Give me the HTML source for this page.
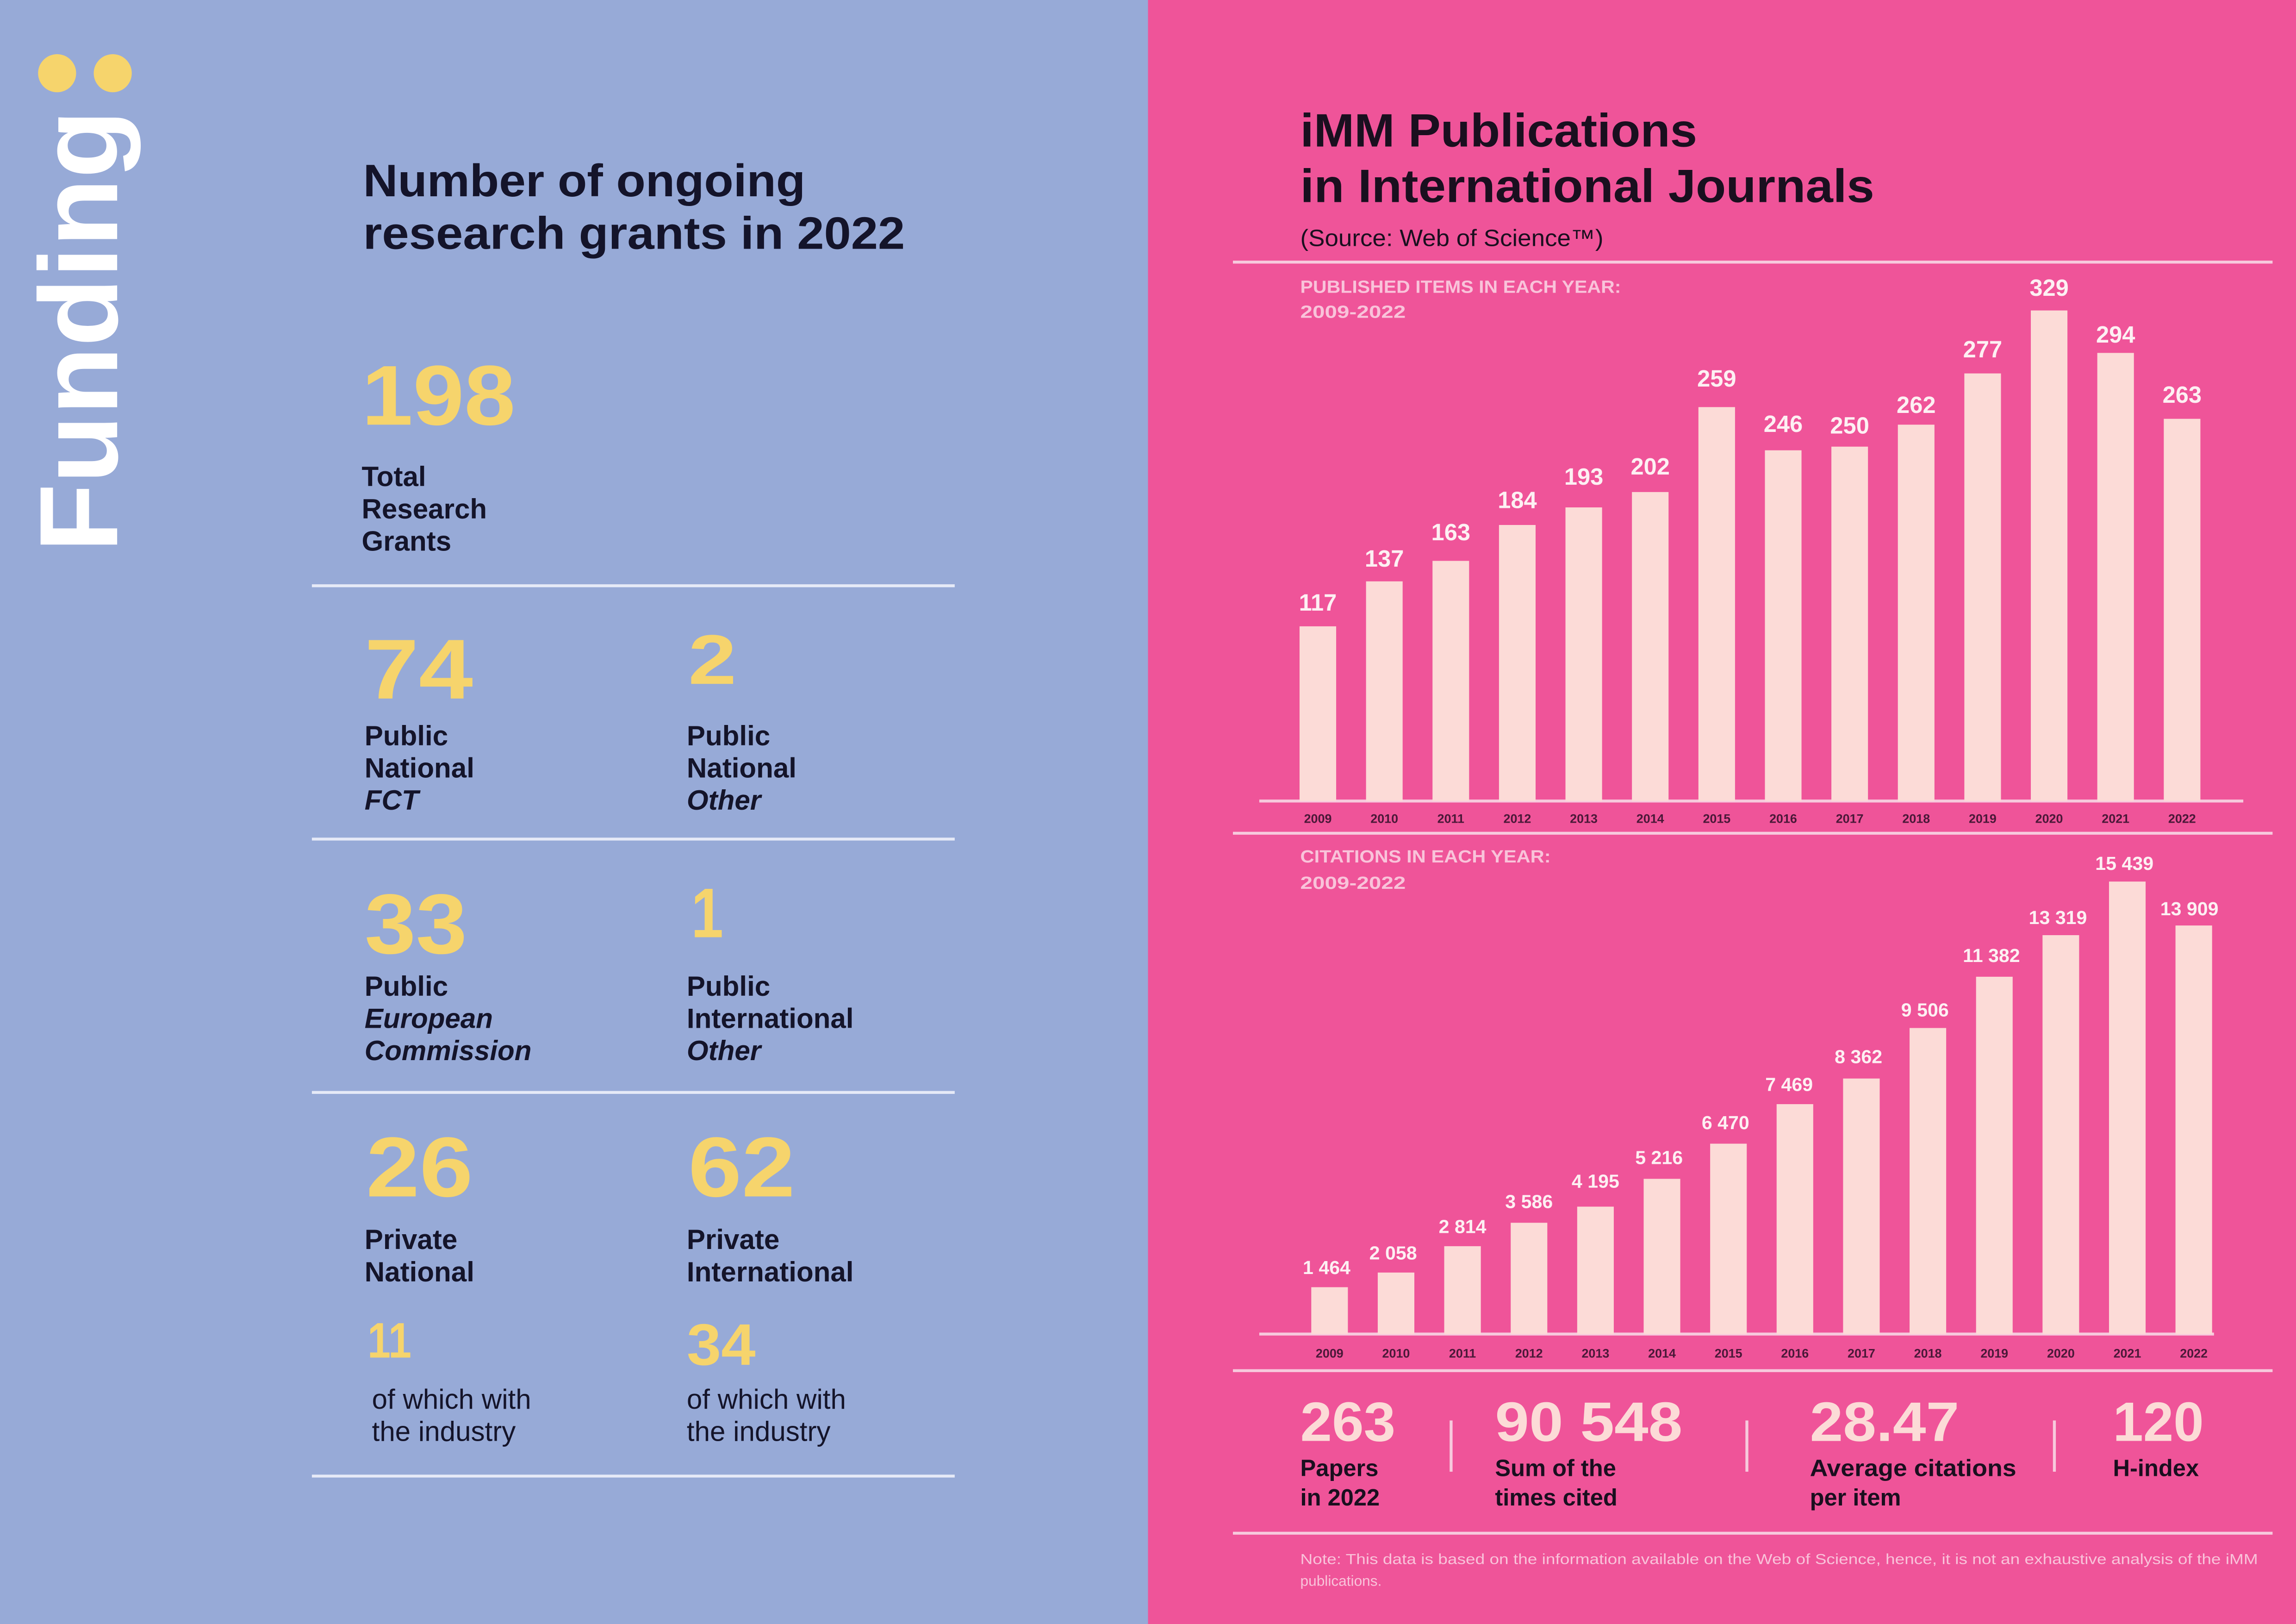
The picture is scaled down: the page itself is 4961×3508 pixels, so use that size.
<!DOCTYPE html>
<html><head><meta charset="utf-8"><style>
html,body{margin:0;padding:0;background:#ef5499;}
svg{display:block}
text{font-family:"Liberation Sans",sans-serif;}
</style></head><body>
<svg xmlns="http://www.w3.org/2000/svg" width="4961" height="3508" viewBox="0 0 1568 1109" preserveAspectRatio="none">
<rect x="0" y="0" width="784" height="1109" fill="#97aad7"/>
<rect x="784" y="0" width="784" height="1109" fill="#ef5499"/>

<!-- Funding -->
<circle cx="39" cy="50" r="13" fill="#f6d46c"/>
<circle cx="77" cy="50" r="13" fill="#f6d46c"/>
<text transform="translate(80,377) rotate(-90)" font-size="76" font-weight="bold" fill="#ffffff" textLength="302" lengthAdjust="spacingAndGlyphs">Funding</text>

<g fill="#14142a" font-weight="bold">
<text x="248" y="134" font-size="31" textLength="302" lengthAdjust="spacingAndGlyphs">Number of ongoing</text>
<text x="248" y="170" font-size="31" textLength="370" lengthAdjust="spacingAndGlyphs">research grants in 2022</text>
</g>

<g fill="#f6d46c" font-weight="bold">
<text x="247" y="290" font-size="58" textLength="105" lengthAdjust="spacingAndGlyphs">198</text>
<text x="249" y="477" font-size="58" textLength="74" lengthAdjust="spacingAndGlyphs">74</text>
<text x="470" y="467" font-size="48" textLength="33" lengthAdjust="spacingAndGlyphs">2</text>
<text x="249" y="651" font-size="58" textLength="70" lengthAdjust="spacingAndGlyphs">33</text>
<text x="472" y="640" font-size="48" textLength="22" lengthAdjust="spacingAndGlyphs">1</text>
<text x="250" y="817" font-size="58" textLength="73" lengthAdjust="spacingAndGlyphs">26</text>
<text x="470" y="817" font-size="58" textLength="73" lengthAdjust="spacingAndGlyphs">62</text>
<text x="251" y="927" font-size="34" textLength="30" lengthAdjust="spacingAndGlyphs">11</text>
<text x="469" y="932" font-size="40" textLength="47" lengthAdjust="spacingAndGlyphs">34</text>
</g>

<g fill="#14142a" font-size="19" font-weight="bold">
<text x="247" y="332">Total</text>
<text x="247" y="354">Research</text>
<text x="247" y="376">Grants</text>
<text x="249" y="509">Public</text>
<text x="249" y="531">National</text>
<text x="249" y="553" font-style="italic">FCT</text>
<text x="469" y="509">Public</text>
<text x="469" y="531">National</text>
<text x="469" y="553" font-style="italic">Other</text>
<text x="249" y="680">Public</text>
<text x="249" y="702" font-style="italic">European</text>
<text x="249" y="724" font-style="italic">Commission</text>
<text x="469" y="680">Public</text>
<text x="469" y="702">International</text>
<text x="469" y="724" font-style="italic">Other</text>
<text x="249" y="853">Private</text>
<text x="249" y="875">National</text>
<text x="469" y="853">Private</text>
<text x="469" y="875">International</text>
</g>
<g fill="#14142a" font-size="19">
<text x="254" y="962">of which with</text>
<text x="254" y="984">the industry</text>
<text x="469" y="962">of which with</text>
<text x="469" y="984">the industry</text>
</g>
<g stroke="#e6eaf7" stroke-width="2">
<line x1="213" y1="400" x2="652" y2="400"/>
<line x1="213" y1="573" x2="652" y2="573"/>
<line x1="213" y1="746" x2="652" y2="746"/>
<line x1="213" y1="1008" x2="652" y2="1008"/>
</g>

<!-- Right panel -->
<g fill="#1a0f1f" font-weight="bold">
<text x="888" y="100" font-size="32" textLength="271" lengthAdjust="spacingAndGlyphs">iMM Publications</text>
<text x="888" y="138" font-size="32" textLength="392" lengthAdjust="spacingAndGlyphs">in International Journals</text>
</g>
<text x="888" y="168" font-size="16" fill="#1a0f1f" textLength="207" lengthAdjust="spacingAndGlyphs">(Source: Web of Science™)</text>

<g stroke="#f7c9dd" stroke-width="2">
<line x1="842" y1="179" x2="1552" y2="179"/>
<line x1="842" y1="569" x2="1552" y2="569"/>
<line x1="842" y1="936" x2="1552" y2="936"/>
<line x1="842" y1="1047" x2="1552" y2="1047"/>
<line x1="860" y1="547" x2="1532" y2="547"/>
<line x1="860" y1="911" x2="1512" y2="911"/>
<line x1="991" y1="970" x2="991" y2="1005"/>
<line x1="1193" y1="970" x2="1193" y2="1005"/>
<line x1="1403" y1="970" x2="1403" y2="1005"/>
</g>

<g fill="#f9c3da" font-size="12" font-weight="bold">
<text x="888" y="200" textLength="219" lengthAdjust="spacingAndGlyphs">PUBLISHED ITEMS IN EACH YEAR:</text>
<text x="888" y="217" textLength="72" lengthAdjust="spacingAndGlyphs">2009-2022</text>
<text x="888" y="589" textLength="171" lengthAdjust="spacingAndGlyphs">CITATIONS IN EACH YEAR:</text>
<text x="888" y="607" textLength="72" lengthAdjust="spacingAndGlyphs">2009-2022</text>
</g>

<!-- Chart 1 bars -->
<g fill="#fcdbd7">
<rect x="887.5" y="427.7" width="25" height="119.3"/>
<rect x="932.9" y="397" width="25" height="150"/>
<rect x="978.3" y="383" width="25" height="164"/>
<rect x="1023.7" y="358.5" width="25" height="188.5"/>
<rect x="1069.1" y="346.5" width="25" height="200.5"/>
<rect x="1114.5" y="336" width="25" height="211"/>
<rect x="1159.9" y="278" width="25" height="269"/>
<rect x="1205.3" y="307.5" width="25" height="239.5"/>
<rect x="1250.7" y="305" width="25" height="242"/>
<rect x="1296.1" y="290" width="25" height="257"/>
<rect x="1341.5" y="255" width="25" height="292"/>
<rect x="1386.9" y="212" width="25" height="335"/>
<rect x="1432.3" y="241" width="25" height="306"/>
<rect x="1477.7" y="286" width="25" height="261"/>
</g>
<g fill="#fdf0f3" font-size="16" font-weight="bold" text-anchor="middle">
<text x="900" y="417">117</text>
<text x="945.4" y="387">137</text>
<text x="990.8" y="369">163</text>
<text x="1036.2" y="347">184</text>
<text x="1081.6" y="331">193</text>
<text x="1127" y="324">202</text>
<text x="1172.4" y="264">259</text>
<text x="1217.8" y="295">246</text>
<text x="1263.2" y="296">250</text>
<text x="1308.6" y="282">262</text>
<text x="1354" y="244">277</text>
<text x="1399.4" y="202">329</text>
<text x="1444.8" y="234">294</text>
<text x="1490.2" y="275">263</text>
</g>
<g fill="#4a1838" font-size="8.5" font-weight="bold" text-anchor="middle">
<text x="900" y="562">2009</text><text x="945.4" y="562">2010</text><text x="990.8" y="562">2011</text><text x="1036.2" y="562">2012</text><text x="1081.6" y="562">2013</text><text x="1127" y="562">2014</text><text x="1172.4" y="562">2015</text><text x="1217.8" y="562">2016</text><text x="1263.2" y="562">2017</text><text x="1308.6" y="562">2018</text><text x="1354" y="562">2019</text><text x="1399.4" y="562">2020</text><text x="1444.8" y="562">2021</text><text x="1490.2" y="562">2022</text>
</g>

<!-- Chart 2 bars -->
<g fill="#fcdbd7">
<rect x="895.5" y="879" width="25" height="32"/>
<rect x="940.9" y="869" width="25" height="42"/>
<rect x="986.3" y="851" width="25" height="60"/>
<rect x="1031.7" y="835" width="25" height="76"/>
<rect x="1077.1" y="824" width="25" height="87"/>
<rect x="1122.5" y="805" width="25" height="106"/>
<rect x="1167.9" y="781" width="25" height="130"/>
<rect x="1213.3" y="754" width="25" height="157"/>
<rect x="1258.7" y="736.5" width="25" height="174.5"/>
<rect x="1304.1" y="702" width="25" height="209"/>
<rect x="1349.5" y="667" width="25" height="244"/>
<rect x="1394.9" y="638.6" width="25" height="272.4"/>
<rect x="1440.3" y="602" width="25" height="309"/>
<rect x="1485.7" y="632" width="25" height="279"/>
</g>
<g fill="#fdf0f3" font-size="13" font-weight="bold" text-anchor="middle">
<text x="906" y="870">1 464</text>
<text x="951.4" y="860">2 058</text>
<text x="998.8" y="842">2 814</text>
<text x="1044.2" y="825">3 586</text>
<text x="1089.6" y="811">4 195</text>
<text x="1133" y="795">5 216</text>
<text x="1178.4" y="771">6 470</text>
<text x="1221.8" y="745">7 469</text>
<text x="1269.2" y="726">8 362</text>
<text x="1314.6" y="694">9 506</text>
<text x="1360" y="657">11 382</text>
<text x="1405.4" y="631">13 319</text>
<text x="1450.8" y="594">15 439</text>
<text x="1495.2" y="625">13 909</text>
</g>
<g fill="#4a1838" font-size="8.5" font-weight="bold" text-anchor="middle">
<text x="908" y="927">2009</text><text x="953.4" y="927">2010</text><text x="998.8" y="927">2011</text><text x="1044.2" y="927">2012</text><text x="1089.6" y="927">2013</text><text x="1135" y="927">2014</text><text x="1180.4" y="927">2015</text><text x="1225.8" y="927">2016</text><text x="1271.2" y="927">2017</text><text x="1316.6" y="927">2018</text><text x="1362" y="927">2019</text><text x="1407.4" y="927">2020</text><text x="1452.8" y="927">2021</text><text x="1498.2" y="927">2022</text>
</g>

<!-- Stats -->
<g fill="#fcdbd7" font-weight="bold" font-size="38">
<text x="888" y="984" textLength="65" lengthAdjust="spacingAndGlyphs">263</text>
<text x="1021" y="984" textLength="128" lengthAdjust="spacingAndGlyphs">90 548</text>
<text x="1236" y="984" textLength="102" lengthAdjust="spacingAndGlyphs">28.47</text>
<text x="1443" y="984" textLength="62" lengthAdjust="spacingAndGlyphs">120</text>
</g>
<g fill="#1a0f1f" font-weight="bold" font-size="16">
<text x="888" y="1008">Papers</text>
<text x="888" y="1028">in 2022</text>
<text x="1021" y="1008">Sum of the</text>
<text x="1021" y="1028">times cited</text>
<text x="1236" y="1008" textLength="141" lengthAdjust="spacingAndGlyphs">Average citations</text>
<text x="1236" y="1028">per item</text>
<text x="1443" y="1008">H-index</text>
</g>
<g fill="#f9c3da" font-size="10">
<text x="888" y="1068" textLength="654" lengthAdjust="spacingAndGlyphs">Note: This data is based on the information available on the Web of Science, hence, it is not an exhaustive analysis of the iMM</text>
<text x="888" y="1083">publications.</text>
</g>
</svg>
</body></html>
